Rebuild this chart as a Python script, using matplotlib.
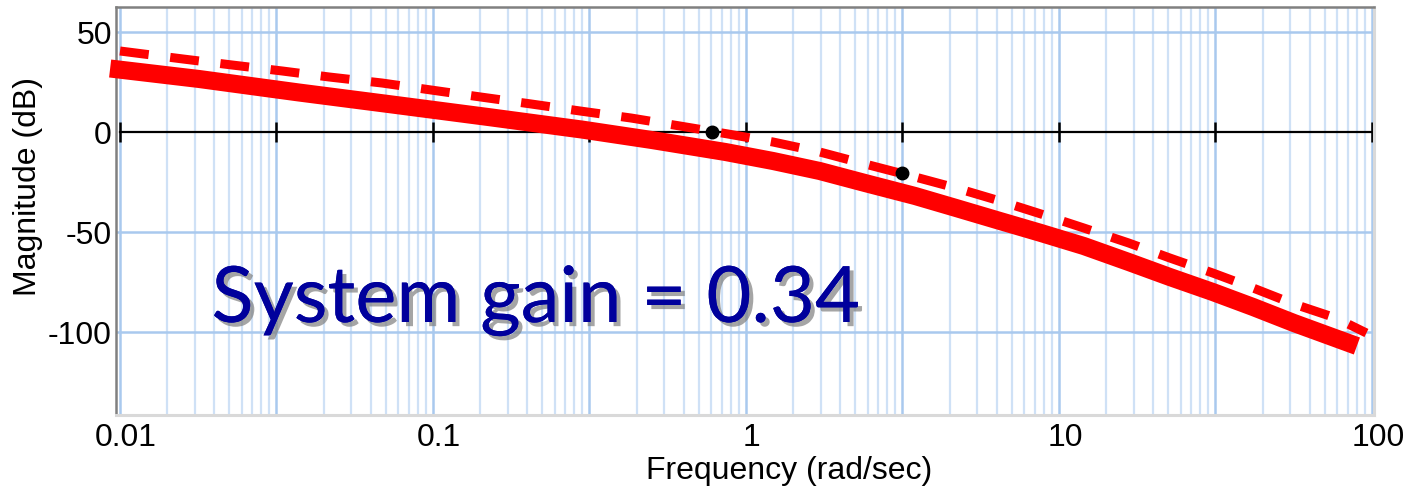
import numpy as np
import matplotlib
matplotlib.use("Agg")
import matplotlib.pyplot as plt
import matplotlib.patheffects as pe
from matplotlib.transforms import ScaledTranslation

# values
freq_dash = [0.01, 0.0159, 0.0228, 0.033, 0.0466, 0.0687, 0.0986, 0.142, 0.206, 0.295,
             0.429, 0.615, 0.876, 1.22, 1.72, 2.4, 3.47, 4.69, 6.48, 8.76, 12.0, 16.7,
             22.6, 31.0, 41.7, 56.3, 76.7, 96.0]
mag_dash = [40.5, 36.5, 33.5, 30.5, 27.5, 24.5, 21, 17.5, 14, 10.5,
            7.0, 3, -1, -5.0, -10.0, -16, -22.5, -28, -34.5, -41, -48, -55.5,
            -63, -70.5, -78, -86, -93, -100.5]

freq_solid = [0.0093, 0.0179, 0.0373, 0.0762, 0.15, 0.3, 0.5, 0.86, 1.22, 1.72, 2.4,
              3.47, 4.69, 6.48, 8.76, 12.0, 16.7, 22.6, 31.0, 41.7, 56.3, 89.5]
mag_solid = [31.75, 26.5, 19.75, 13.5, 7.5, 1.2, -4.0, -10.0, -14.5, -19.5, -25.5,
             -32, -38, -44.5, -50.5, -57, -65, -72.5, -80, -87.5, -95.5, -107]

dot_freq = [0.78, 3.15]
dot_mag = [0, -20.5]

xtick_vals = [0.01, 0.1, 1, 10, 100]
xtick_text = ["0.01", "0.1", "1", "10", "100"]
ytick_vals = [50, 0, -50, -100]

plt.rcParams['font.family'] = ['Liberation Sans', 'DejaVu Sans']

fig = plt.figure(figsize=(14.18, 4.93), dpi=100)
ax = fig.add_axes([116/1418, 1 - 415/493, (1374 - 116)/1418, (415 - 7)/493])
ax.set_xscale('log')
ax.set_xlim(0.00971, 101.5)
ax.set_ylim(-141.5, 62.5)

# graph-paper grid: log steps on every half decade
halfdec = 0.01 * np.sqrt(10) ** np.arange(0, 9)
for b in halfdec[:-1]:
    for k in range(2, 10):
        ax.axvline(b * np.sqrt(k), color='#cfe1f6', lw=1.6, zorder=0)
for b in halfdec:
    ax.axvline(b, color='#a9c9ee', lw=1.8, zorder=0)
for yv in [50, -50, -100]:
    ax.axhline(yv, color='#a9c9ee', lw=1.8, zorder=0)

# zero line with ticks
ax.plot([0.01, 100], [0, 0], color='black', lw=1.6, zorder=2)
ax.plot(halfdec, np.zeros(len(halfdec)), linestyle='none', marker='|',
        markersize=14, markeredgewidth=1.8, color='black', zorder=2)

ax.plot(freq_solid, mag_solid, color='red', lw=13, solid_capstyle='butt',
        solid_joinstyle='round', zorder=3, clip_on=False)
ax.plot(freq_dash, mag_dash, color='red', lw=6.5, dashes=(3.2, 2.4),
        dash_capstyle='butt', zorder=3)
ax.plot(dot_freq, dot_mag, 'o', color='black', markersize=9, zorder=4)

ax.text(0.0196, -95, "System gain = 0.34", fontsize=56, color='#00009c',
        family=['Lato', 'DejaVu Sans'], zorder=5,
        path_effects=[pe.withSimplePatchShadow(offset=(3, -3), shadow_rgbFace='#7f7f7f', alpha=0.7),
                      pe.Normal()])

ax.set_xticks(xtick_vals)
ax.set_xticklabels(xtick_text)
ax.xaxis.set_minor_locator(matplotlib.ticker.NullLocator())
ax.set_yticks(ytick_vals)
ax.set_yticklabels([str(v) for v in ytick_vals])
ax.tick_params(axis='both', length=0, labelsize=23)
ax.tick_params(axis='x', pad=6)
ax.tick_params(axis='y', pad=3)
off = ScaledTranslation(6/100, 0, fig.dpi_scale_trans)
for lab in ax.get_xticklabels():
    lab.set_transform(lab.get_transform() + off)

for s in ['left', 'top']:
    ax.spines[s].set_color('#808080')
    ax.spines[s].set_linewidth(1.8)
for s in ['right', 'bottom']:
    ax.spines[s].set_color('#d9d9d9')
    ax.spines[s].set_linewidth(2.2)

fig.text(28/1418, 1 - 186/493, "Magnitude (dB)", rotation=90, fontsize=23,
         ha='center', va='center')
fig.text(789/1418, 1 - 471/493, "Frequency (rad/sec)", fontsize=23,
         ha='center', va='center')

fig.savefig("out.png", dpi=100)
